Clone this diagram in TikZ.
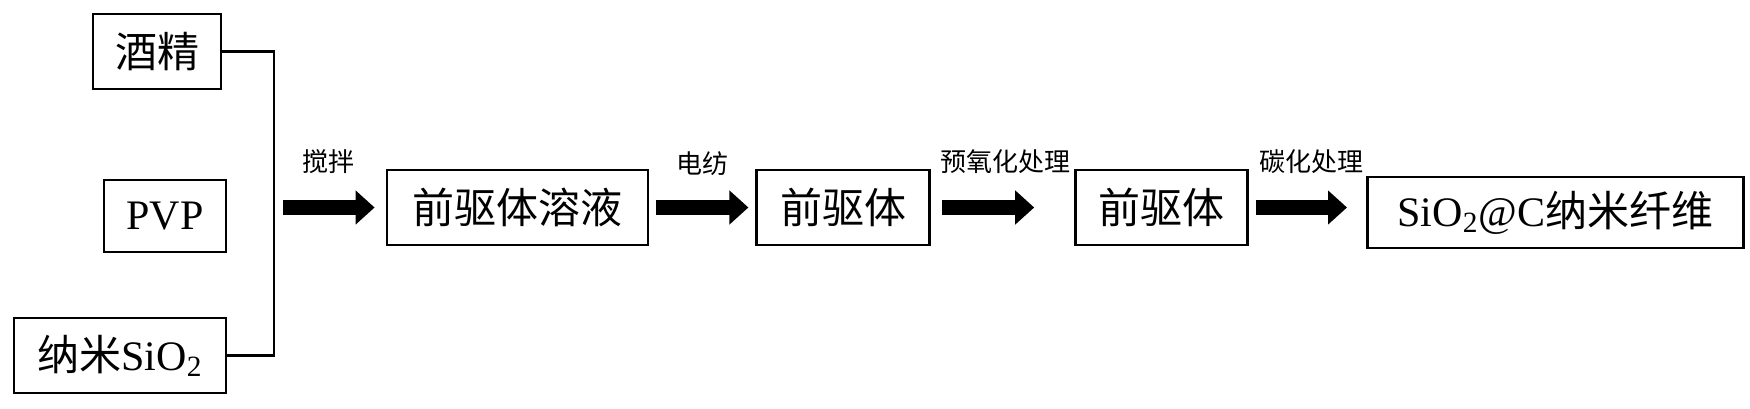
\documentclass[tikz,border=0pt]{standalone}
\usepackage{fontspec}
\setmainfont{Liberation Serif}
\newfontfamily\cjk{Noto Sans CJK SC}
\usetikzlibrary{arrows.meta, positioning}

\begin{document}
\begin{tikzpicture}[
    x=0.5pt, y=-0.5pt,
    node distance=53pt,
    blk/.style={draw, line width=1.4pt, minimum height=37.5pt, inner sep=0pt,
                font=\fontsize{21}{21}\selectfont, text centered},
    lab/.style={font=\cjk\fontsize{13}{13}\selectfont, inner sep=0pt},
    arr/.style={-{Triangle[length=9.5pt, width=16.5pt]}, line width=7.5pt},
    lnk/.style={line width=1.4pt},
]
\useasboundingbox (0,0) rectangle (1750,408);
\node[blk, minimum width=64pt] (jj) at (157,51.5) {\cjk 酒精};
\node[blk, minimum width=61pt, minimum height=36pt] (pvp) at (165,216) {PVP};
\node[blk, minimum width=106pt] (nsi) at (120,355.5) {{\cjk 纳米}SiO\textsubscript{2}};
\coordinate (mix) at (274,207.5);
\draw[lnk] (jj.east) -| (mix) |- (nsi.east);

\node[blk, minimum width=130.5pt] (sol) at (517.5,207.5) {\cjk 前驱体溶液};
\node[blk, minimum width=86.5pt, right=of sol] (pre1) {\cjk 前驱体};
\node[blk, minimum width=86pt, right=71.5pt of pre1] (pre2) {\cjk 前驱体};
\node[blk, minimum width=188pt, minimum height=35.5pt, right=58.5pt of pre2, yshift=-2.5pt] (fib)
    {SiO\textsubscript{2}@C{\cjk 纳米纤维}};

\draw[arr] ([xshift=4.5pt]mix) -- ([xshift=-5.5pt]sol.west)
    node[lab, midway, above=13pt] (l1) {搅拌};
\draw[arr] ([xshift=3.5pt]sol.east) -- ([xshift=-3.5pt]pre1.west)
    node[lab, midway, above=12pt] (l2) {电纺};
\draw[arr] ([xshift=5.5pt]pre1.east) -- ([xshift=-20pt]pre2.west)
    node[lab, midway, above=13pt, xshift=8.5pt] (l3) {预氧化处理};
\draw[arr] ([xshift=3.5pt]pre2.east) -- ([xshift=-9.5pt]pre2.east -| fib.west)
    node[lab, midway, above=13pt, xshift=5pt] (l4) {碳化处理};
\end{tikzpicture}
\end{document}
